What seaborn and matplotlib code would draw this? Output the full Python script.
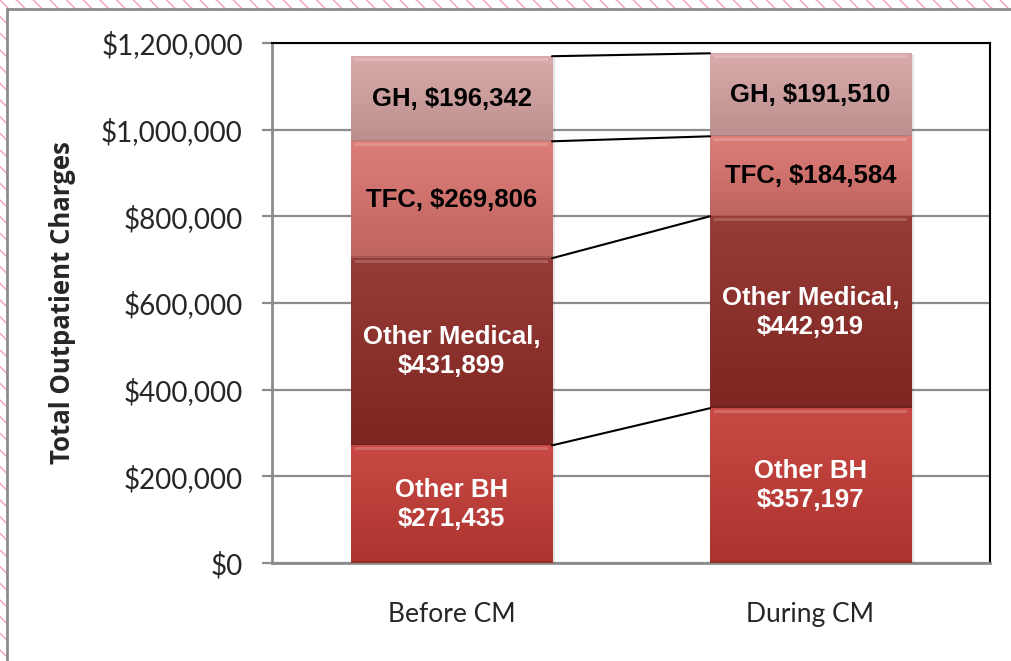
import numpy as np
import pandas as pd
import matplotlib
matplotlib.use("Agg")
import matplotlib.pyplot as plt
import matplotlib.colors as mcolors
from matplotlib.patches import Rectangle
from matplotlib.ticker import FuncFormatter
import seaborn as sns

# ---- data ----
categories = ["Before CM", "During CM"]
segments = ["Other BH", "Other Medical", "TFC", "GH"]
other_bh = [271435, 357197]
other_medical = [431899, 442919]
tfc = [269806, 184584]
gh = [196342, 191510]
seg_labels = {
    "Other BH": "Other BH\n${:,}",
    "Other Medical": "Other Medical,\n${:,}",
    "TFC": "TFC, ${:,}",
    "GH": "GH, ${:,}",
}
y_ticks = [0, 200000, 400000, 600000, 800000, 1000000, 1200000]
y_label = "Total Outpatient Charges"

seg_values = {"Other BH": other_bh, "Other Medical": other_medical, "TFC": tfc, "GH": gh}
seg_colors = {"Other BH": "#C43A34", "Other Medical": "#8F2B26", "TFC": "#DA726D", "GH": "#D6A3A3"}
seg_text = {"Other BH": "white", "Other Medical": "white", "TFC": "black", "GH": "black"}

rows = []
for s in segments:
    for c, v in zip(categories, seg_values[s]):
        rows.append({"category": c, "segment": s, "value": v})
df = pd.DataFrame(rows)

sns.set_style("white")
plt.rcParams["font.family"] = ["Lato", "DejaVu Sans"]

fig = plt.figure(figsize=(10.12, 6.61), dpi=100)
fig.patch.set_facecolor("white")

# decorative background hatch + panel
bg = Rectangle((0, 0), 1, 1, transform=fig.transFigure, facecolor="white",
               edgecolor="#F2A0B8", hatch="\\\\", linewidth=0, zorder=-10)
fig.patches.append(bg)
panel = Rectangle((7 / 1012, -0.01), 1.02, 1 - 9 / 661 + 0.01, transform=fig.transFigure,
                  facecolor="white", edgecolor="#8C8C8C", linewidth=2, zorder=-9)
fig.patches.append(panel)

ax = fig.add_axes([272 / 1012, 1 - 563 / 661, (990 - 272) / 1012, (563 - 43) / 661])
ax.set_facecolor("white")
ax.patch.set_alpha(0)

bottoms = np.zeros(len(categories))
seg_bottoms = {}
for s in segments:
    sub = df[df.segment == s].set_index("category").loc[categories].reset_index()
    seg_bottoms[s] = bottoms.copy()
    sns.barplot(data=sub, x="category", y="value", order=categories, color=seg_colors[s],
                width=0.56, bottom=bottoms.copy(), ax=ax, saturation=1, errorbar=None,
                linewidth=0, zorder=3)
    bottoms = bottoms + sub["value"].to_numpy()

ax.set_ylim(0, 1200000)
ax.set_xlim(-0.5, 1.5)

# gradient / bevel effect on bars
for p in list(ax.patches):
    x0, y0 = p.get_x(), p.get_y()
    w, h = p.get_width(), p.get_height()
    base = np.array(mcolors.to_rgb(p.get_facecolor()))
    n = 64
    t = np.linspace(0, 1, n)[:, None]  # 0 = bottom, 1 = top
    top = base + (1 - base) * 0.08
    bot = base * 0.88
    grad = bot * (1 - t) + top * t
    img = np.repeat(grad[:, None, :], 2, axis=1)
    im = ax.imshow(img, extent=[x0, x0 + w, y0, y0 + h], aspect="auto",
                   origin="lower", zorder=3.1, interpolation="bilinear")
    im.set_clip_path(p)
    # top highlight band (bevel)
    hl = top + (1 - top) * 0.25
    ax.add_patch(Rectangle((x0 + 0.012, y0 + h - 10000), w - 0.024, 7000,
                           facecolor=hl, edgecolor="none", alpha=0.7, zorder=3.2))
    # darker bottom edge
    ax.add_patch(Rectangle((x0, y0), w, 4000, facecolor=base * 0.7,
                           edgecolor="none", alpha=0.6, zorder=3.2))
    # shadow
    ax.add_patch(Rectangle((x0 + 0.008, y0 - 5000), w, h, facecolor="#000000",
                           alpha=0.10, edgecolor="none", zorder=2.9))
ax.set_ylim(0, 1200000)
ax.set_xlim(-0.5, 1.5)

# connector lines between stacks
half = 0.28
cum = np.zeros(len(categories))
for s in segments:
    cum = cum + np.array(seg_values[s])
    ax.plot([0 + half, 1 - half], [cum[0], cum[1]], color="black", linewidth=1.5, zorder=4)

# segment labels
for s in segments:
    for i, c in enumerate(categories):
        v = seg_values[s][i]
        yc = seg_bottoms[s][i] + v / 2
        ax.text(i, yc, seg_labels[s].format(v), ha="center", va="center",
                color=seg_text[s], fontsize=18.5, fontweight="bold",
                family=["Liberation Sans Narrow", "Liberation Sans", "DejaVu Sans"],
                linespacing=1.25, zorder=5)

# axes styling
ax.set_yticks(y_ticks)
ax.yaxis.set_major_formatter(FuncFormatter(lambda v, p: "${:,.0f}".format(v)))
ax.grid(axis="y", color="#8C8C8C", linewidth=1.6, zorder=0)
ax.set_axisbelow(True)
for side in ["top", "right"]:
    ax.spines[side].set_color("black")
    ax.spines[side].set_linewidth(1.5)
    ax.spines[side].set_visible(True)
for side in ["left", "bottom"]:
    ax.spines[side].set_color("#8C8C8C")
    ax.spines[side].set_linewidth(2)
    ax.spines[side].set_visible(True)
ax.tick_params(axis="y", which="major", direction="out", length=7, width=1.6,
               color="#8C8C8C", labelsize=20, pad=14, left=True)
ax.tick_params(axis="x", length=0, labelsize=19, pad=28)
ax.set_xlabel("")
ax.set_ylabel(y_label, fontsize=18.5, fontweight="bold", labelpad=18,
              family=["Open Sans", "DejaVu Sans"])

fig.savefig("out.png", dpi=100)
